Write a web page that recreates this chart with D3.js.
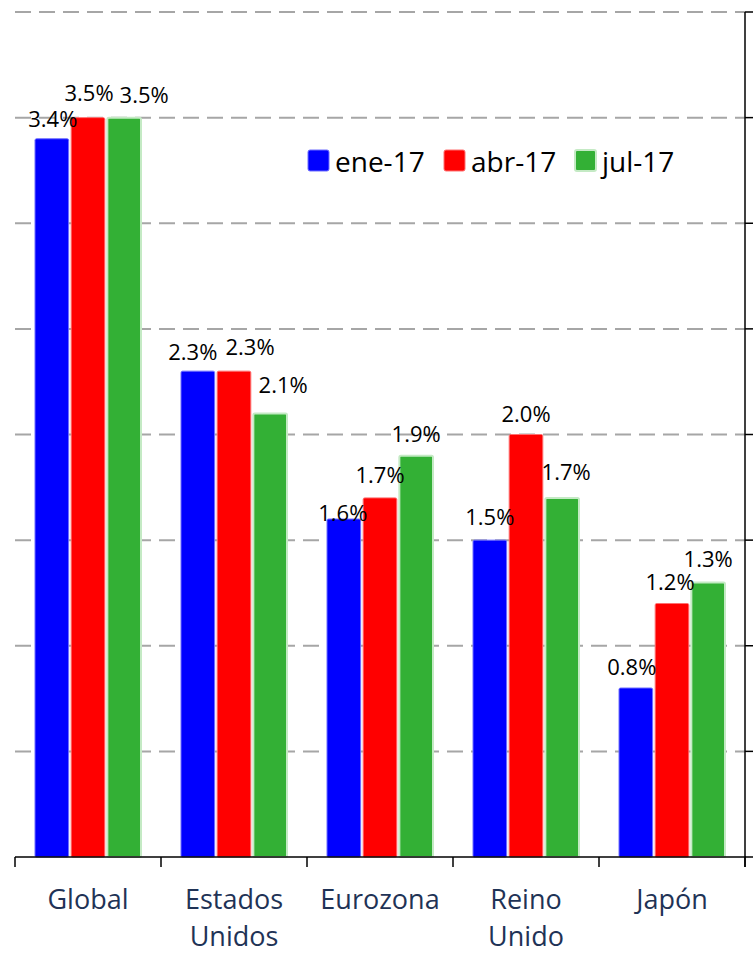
<!DOCTYPE html>
<html>
<head>
<meta charset="utf-8">
<script src="https://cdn.jsdelivr.net/npm/d3@7.9.0/dist/d3.min.js"></script>
<style>
  body { margin: 0; background: #fff; }
  svg text { font-family: "Open Sans", sans-serif; }
</style>
</head>
<body>
<svg id="chart" width="753" height="953"></svg>
<script>
const categories = [["Global"], ["Estados", "Unidos"], ["Eurozona"], ["Reino", "Unido"], ["Japón"]];
const seriesNames = ["ene-17", "abr-17", "jul-17"];
const ene17 = [3.4, 2.3, 1.6, 1.5, 0.8];
const abr17 = [3.5, 2.3, 1.7, 2.0, 1.2];
const jul17 = [3.5, 2.1, 1.9, 1.7, 1.3];
const yTicks = [0, 0.5, 1, 1.5, 2, 2.5, 3, 3.5, 4];
// hand placed label nudges [dx, dy] like in the original
const labelNudge = [
  [[1, -21], [1, -26], [20, -24]],
  [[-5, -20], [16, -25], [13, -29]],
  [[-1, -7], [0, -24], [0, -23]],
  [[0, -24], [0, -22], [4, -27]],
  [[-4, -22], [-2, -23], [0, -24]]
];

const colors = ["#0000ff", "#ff0000", "#33b035"];
const strokes = ["#6f6fff", "#ff7070", "#c4eac4"];
const values = [ene17, abr17, jul17];

const svg = d3.select("#chart");
const area = { left: 15, right: 745, top: 12, bottom: 857 };

const x0 = d3.scaleBand()
  .domain(d3.range(categories.length))
  .range([area.left, area.right]);
const x1 = d3.scaleBand()
  .domain(d3.range(seriesNames.length))
  .range([20, 126])
  .paddingInner(0.07);
const y = d3.scaleLinear().domain([0, 4]).range([area.bottom, area.top]);

// gridlines
svg.append("g")
  .selectAll("line")
  .data(yTicks.filter(d => d > 0))
  .join("line")
  .attr("x1", area.left)
  .attr("x2", area.right)
  .attr("y1", d => y(d))
  .attr("y2", d => y(d))
  .attr("stroke", "#a6a6a6")
  .attr("stroke-width", 2)
  .attr("stroke-dasharray", "16,8");

// bars
const groups = svg.append("g")
  .selectAll("g")
  .data(categories.map((c, i) => i))
  .join("g")
  .attr("transform", i => `translate(${x0(i)},0)`);

groups.selectAll("rect")
  .data(i => values.map((v, s) => ({ s, i, v: v[i] })))
  .join("rect")
  .attr("x", d => x1(d.s))
  .attr("y", d => y(d.v))
  .attr("width", x1.bandwidth())
  .attr("height", d => y(0) - y(d.v))
  .attr("rx", 1.5)
  .attr("fill", d => colors[d.s])
  .attr("stroke", d => strokes[d.s])
  .attr("stroke-width", d => d.s === 2 ? 2 : 1);

// value labels
groups.selectAll("text")
  .data(i => values.map((v, s) => ({ s, i, v: v[i] })))
  .join("text")
  .attr("x", d => x1(d.s) + x1.bandwidth() / 2 + labelNudge[d.i][d.s][0])
  .attr("y", d => y(d.v) + labelNudge[d.i][d.s][1])
  .attr("text-anchor", "middle")
  .attr("dominant-baseline", "central")
  .attr("font-size", 22)
  .attr("fill", "#000")
  .text(d => d3.format(".1f")(d.v) + "%");

// x axis
const xAxis = svg.append("g");
xAxis.append("line")
  .attr("x1", area.left).attr("x2", area.right + 1)
  .attr("y1", area.bottom).attr("y2", area.bottom)
  .attr("stroke", "#000").attr("stroke-width", 1.5);
xAxis.selectAll(".xtick")
  .data(d3.range(categories.length + 1))
  .join("line")
  .attr("class", "xtick")
  .attr("x1", i => i < categories.length ? x0(i) : area.right)
  .attr("x2", i => i < categories.length ? x0(i) : area.right)
  .attr("y1", area.bottom)
  .attr("y2", area.bottom + 10)
  .attr("stroke", "#000").attr("stroke-width", 1.5);

const catText = xAxis.selectAll(".cat")
  .data(categories)
  .join("text")
  .attr("class", "cat")
  .attr("x", (d, i) => x0(i) + x0.bandwidth() / 2)
  .attr("y", 909)
  .attr("text-anchor", "middle")
  .attr("font-size", 27)
  .attr("fill", "#1f3356");
catText.selectAll("tspan")
  .data(d => d)
  .join("tspan")
  .attr("x", function () { return d3.select(this.parentNode).attr("x"); })
  .attr("dy", (d, k) => k === 0 ? 0 : 37)
  .text(d => d);

// right axis
const yAxis = svg.append("g");
yAxis.append("line")
  .attr("x1", area.right).attr("x2", area.right)
  .attr("y1", area.top).attr("y2", area.bottom + 10)
  .attr("stroke", "#000").attr("stroke-width", 1.5);
yAxis.selectAll(".ytick")
  .data(yTicks)
  .join("line")
  .attr("class", "ytick")
  .attr("x1", area.right)
  .attr("x2", area.right + 10)
  .attr("y1", d => y(d))
  .attr("y2", d => y(d))
  .attr("stroke", "#000").attr("stroke-width", 1.5);

// legend
const legendX = [308, 444, 575];
const legend = svg.append("g")
  .selectAll("g")
  .data(seriesNames)
  .join("g")
  .attr("transform", (d, i) => `translate(${legendX[i]},150)`);
legend.append("rect")
  .attr("width", 21).attr("height", 21).attr("rx", 2)
  .attr("fill", (d, i) => colors[i])
  .attr("stroke", (d, i) => strokes[i])
  .attr("stroke-width", (d, i) => i === 2 ? 2 : 1);
legend.append("text")
  .attr("x", 27)
  .attr("y", 11)
  .attr("dominant-baseline", "central")
  .attr("font-size", 28)
  .attr("fill", "#000")
  .text(d => d);
</script>
</body>
</html>
